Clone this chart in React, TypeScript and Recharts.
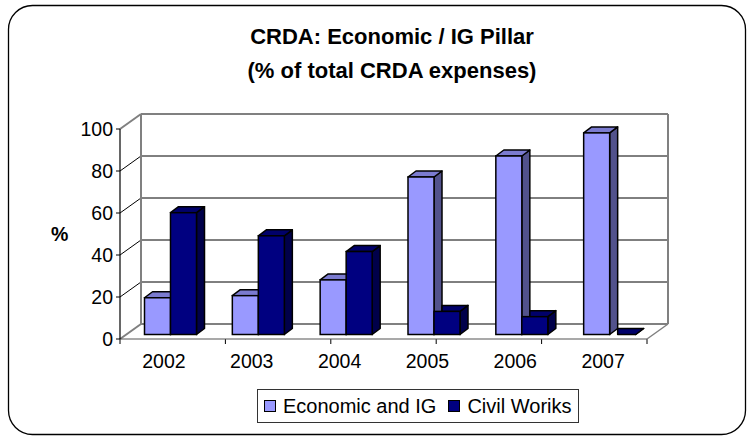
import React from 'react';
import { BarChart, Bar, XAxis, YAxis, CartesianGrid, Legend } from 'recharts';

const years = ['2002', '2003', '2004', '2005', '2006', '2007'];
const economicAndIG = [17.5, 18.5, 26, 75, 85, 96];
const civilWorks = [58, 47, 39.5, 11, 8.5, 0];
const yTicks = [0, 20, 40, 60, 80, 100];
const boundaryTicks = [0, 1, 2, 3, 4, 5, 6];
const seriesNames = ['Economic and IG', 'Civil Woriks'];
const titleLines = ['CRDA: Economic / IG Pillar', '(% of total CRDA expenses)'];
const yAxisTitle = '%';

const data = years.map((year, i) => ({ year, econ: economicAndIG[i], civil: civilWorks[i] }));

const W = 747;
const H = 436;
const PLOT_LEFT = 120;
const PLOT_TOP = 129;
const PLOT_RIGHT = 647;
const PLOT_BOTTOM = 339;
const Y_AXIS_W = 70;
const X_AXIS_H = 30;
const margin = {
  top: PLOT_TOP,
  right: W - PLOT_RIGHT,
  left: PLOT_LEFT - Y_AXIS_W,
  bottom: H - PLOT_BOTTOM - X_AXIS_H,
};

const FONT = '"Liberation Sans", Arial, sans-serif';
const TICK_FS = 19.5;
const LEGEND_FS = 20;
const DX = 21;
const DY = 15;
const BDX = 8;
const BDY = 6;
const OX = 6.5;
const OY = 4.5;
const WALL = '#808080';

const lightColors = { front: '#9999FF', top: '#7B7BD0', side: '#52528C' };
const darkColors = { front: '#000080', top: '#00006A', side: '#00004A' };

const pts = (arr: number[][]) => arr.map((p) => p.join(',')).join(' ');

const makeShape = (c: { front: string; top: string; side: string }, clipTop: boolean) => (props: any) => {
  const { x, y, width, height, payload } = props;
  if (x == null || y == null || width == null) return <g />;
  const w = width;
  const h = Math.max(0, height || 0);
  const fx = x + OX;
  const fy = y - OY;
  const sw = 1.5;
  let topPoly: number[][] = [
    [fx, fy],
    [fx + BDX, fy - BDY],
    [fx + w + BDX, fy - BDY],
    [fx + w, fy],
  ];
  if (clipTop && payload && payload.econ > payload.civil) {
    topPoly = [
      [fx + BDX, fy - BDY],
      [fx + w + BDX, fy - BDY],
      [fx + w, fy],
      [fx + BDX, fy],
    ];
  }
  const sidePoly = [
    [fx + w, fy],
    [fx + w + BDX, fy - BDY],
    [fx + w + BDX, fy + h - BDY],
    [fx + w, fy + h],
  ];
  return (
    <g>
      <polygon points={pts(sidePoly)} fill={c.side} stroke="#000" strokeWidth={sw} strokeLinejoin="round" />
      <polygon points={pts(topPoly)} fill={c.top} stroke="#000" strokeWidth={sw} strokeLinejoin="round" />
      {h > 0 && <rect x={fx} y={fy} width={w} height={h} fill={c.front} stroke="#000" strokeWidth={sw} />}
    </g>
  );
};

const LightShape = makeShape(lightColors, false);
const DarkShape = makeShape(darkColors, true);

const horizontalLine = (props: any) => {
  const { x1, y1, x2 } = props;
  const edge = Math.abs(y1 - PLOT_TOP) < 1 || Math.abs(y1 - PLOT_BOTTOM) < 1;
  const stroke = edge ? WALL : '#000';
  const sw = edge ? 2 : 1;
  return (
    <g key={props.key}>
      <line x1={x1 + DX} y1={y1 - DY} x2={x2 + DX} y2={y1 - DY} stroke={stroke} strokeWidth={sw} />
      <line x1={x1} y1={y1} x2={x1 + DX} y2={y1 - DY} stroke={stroke} strokeWidth={sw} />
    </g>
  );
};

const verticalLine = (props: any) => {
  const { x1, y1, y2 } = props;
  const isLeft = Math.abs(x1 - PLOT_LEFT) < 1;
  const isRight = Math.abs(x1 - PLOT_RIGHT) < 1;
  return (
    <g key={props.key}>
      <line x1={x1} y1={y2} x2={x1} y2={y2 + 5} stroke="#000" strokeWidth={1} />
      {(isLeft || isRight) && (
        <line x1={x1 + DX} y1={y1 - DY} x2={x1 + DX} y2={y2 - DY} stroke={WALL} strokeWidth={2} />
      )}
      {isRight && <line x1={x1} y1={y2} x2={x1 + DX} y2={y2 - DY} stroke={WALL} strokeWidth={1.5} />}
    </g>
  );
};

const legendColors = [lightColors.front, darkColors.front];

const renderLegend = () => (
  <div
    style={{
      boxSizing: 'border-box',
      display: 'inline-flex',
      height: 34,
      border: '1px solid #333',
      alignItems: 'center',
      padding: '0 6px 0 6px',
      fontFamily: FONT,
      fontSize: LEGEND_FS,
      color: '#000',
      background: '#fff',
      whiteSpace: 'nowrap',
    }}
  >
    {seriesNames.map((n, i) => (
      <span key={n} style={{ display: 'flex', alignItems: 'center', marginRight: i === 0 ? 12 : 0 }}>
        <span
          style={{
            boxSizing: 'border-box',
            width: 12,
            height: 12,
            border: '1.5px solid #000',
            background: legendColors[i],
            marginRight: 7,
            display: 'inline-block',
          }}
        />
        {n}
      </span>
    ))}
  </div>
);

export default function App() {
  return (
    <div style={{ position: 'absolute', left: 0, top: 0, width: W, height: H, background: '#fff', fontFamily: FONT }}>
      <svg width={W} height={H} style={{ position: 'absolute', left: 0, top: 0 }}>
        <rect x={8.5} y={5.5} width={737} height={429} rx={24} ry={24} fill="#fff" stroke="#000" strokeWidth={1.3} />
        <text x={392} y={44} textAnchor="middle" fontFamily={FONT} fontWeight="bold" fontSize={22} fill="#000">
          {titleLines[0]}
        </text>
        <text x={392} y={78} textAnchor="middle" fontFamily={FONT} fontWeight="bold" fontSize={22} fill="#000">
          {titleLines[1]}
        </text>
      </svg>
      <div style={{ position: 'absolute', left: 0, top: 0 }}>
        <BarChart width={W} height={H} data={data} margin={margin} barGap={0} barSize={26}>
          <XAxis xAxisId="b" type="number" domain={[0, 6]} ticks={boundaryTicks} hide />
          <CartesianGrid
            xAxisId="b"
            horizontal={horizontalLine}
            vertical={verticalLine}
            stroke="#000"
          />
          <XAxis
            dataKey="year"
            height={X_AXIS_H}
            tickLine={false}
            tickSize={6}
            tickMargin={9}
            axisLine={{ stroke: '#555', strokeWidth: 1.2 }}
            tick={{ fontSize: TICK_FS, fill: '#000', fontFamily: FONT }}
            interval={0}
          />
          <YAxis
            width={Y_AXIS_W}
            domain={[0, 100]}
            ticks={yTicks}
            tickSize={4}
            tickMargin={3}
            axisLine={{ stroke: '#000', strokeWidth: 1.2 }}
            tickLine={{ stroke: '#000' }}
            tick={{ fontSize: TICK_FS, fill: '#000', fontFamily: FONT }}
            label={{ value: yAxisTitle, position: 'insideLeft', offset: 1, angle: 0, style: { fontSize: TICK_FS, fontWeight: 'bold', fill: '#000', fontFamily: FONT, textAnchor: 'start' } }}
          />
          <Legend
            layout="horizontal"
            verticalAlign="middle"
            align="center"
            content={renderLegend}
            wrapperStyle={{ position: 'absolute', left: 257, top: 389, width: 340, height: 34 }}
          />
          <Bar dataKey="econ" name={seriesNames[0]} fill={lightColors.front} shape={LightShape} isAnimationActive={false} />
          <Bar dataKey="civil" name={seriesNames[1]} fill={darkColors.front} shape={DarkShape} isAnimationActive={false} />
        </BarChart>
      </div>
    </div>
  );
}
